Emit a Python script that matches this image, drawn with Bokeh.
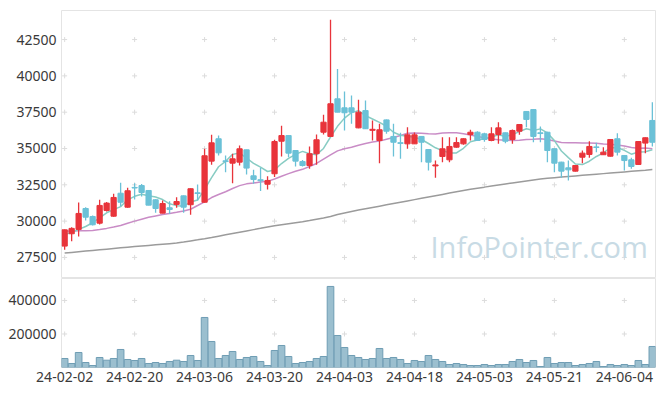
import numpy as np
import pandas as pd
from bokeh.plotting import figure
from bokeh.models import Range1d, FixedTicker, Label, ColumnDataSource
from bokeh.layouts import column
from bokeh.embed import file_html
from bokeh.resources import INLINE

# ---------------- data ----------------
opens = [28280, 29130, 29430, 30870, 30320, 29860, 30730, 30340, 31920, 30960,
         32320, 32450, 32110, 31470, 30550, 30920, 31150, 31740, 31130, 31950,
         31300, 34130, 35670, 34150, 33990, 34060, 34910, 33120, 32850, 32540,
         33260, 35500, 35890, 34860, 34100, 33830, 34640, 36120, 35830, 38420,
         37800, 37800, 36420, 37610, 36250, 35550, 36970, 35830, 35400, 35320,
         35320, 35830, 34930, 33800, 34450, 34220, 35090, 35320, 35960, 36120,
         36010, 35550, 35960, 36080, 35620, 36190, 37550, 37680, 36080, 36120,
         34980, 34060, 33670, 33440, 34400, 34590, 35110, 34570, 34470, 35670,
         34520, 34220, 33900, 35370, 36930]
highs = [29420, 29580, 31280, 30960, 30380, 31470, 31320, 31880, 32640, 32300,
         32610, 32550, 32150, 31500, 31420, 31370, 31650, 31760, 32250, 32520,
         34980, 35940, 35890, 34520, 34640, 35200, 34920, 33530, 33670, 33090,
         35600, 36560, 35900, 34870, 34200, 35140, 35960, 37320, 43860, 40480,
         38920, 38650, 38350, 38300, 36930, 36700, 37000, 36700, 36080, 36470,
         36100, 35850, 34950, 34170, 35780, 35780, 35780, 35700, 36290, 36180,
         36080, 36470, 36810, 36100, 36300, 36660, 37560, 37700, 36510, 36150,
         35000, 34080, 34170, 33850, 34860, 35500, 35390, 35090, 35640, 36050,
         34530, 34360, 35500, 35750, 38190]
lows = [28030, 28620, 28940, 30050, 29700, 29770, 30660, 30300, 31030, 30920,
        31490, 31700, 31100, 30570, 30550, 30510, 30920, 30580, 30440, 31420,
        31290, 33880, 34520, 33370, 32610, 33830, 33210, 32570, 32070, 32180,
        33030, 34450, 34400, 33760, 33760, 33600, 33880, 35960, 35830, 37500,
        36240, 36700, 36400, 36350, 35550, 33990, 36010, 34450, 34290, 34980,
        35320, 34060, 33490, 32980, 34060, 34060, 35050, 35250, 35550, 35550,
        35470, 35500, 35320, 35360, 35330, 35950, 36470, 35430, 35430, 34060,
        33370, 32980, 32800, 33420, 33990, 34360, 34750, 34550, 34450, 34520,
        33490, 33600, 33880, 34680, 35140]
closes = [29400, 29500, 30530, 30270, 29750, 31080, 31240, 31630, 31300, 32090,
          32280, 31970, 31100, 30870, 31210, 30800, 31350, 30960, 32230, 31900,
          34500, 35390, 34700, 34100, 34290, 34980, 33650, 32870, 32780, 32800,
          35480, 35890, 34680, 34130, 33830, 34640, 35600, 36810, 38080, 37500,
          37460, 37500, 37500, 36360, 36320, 36290, 36190, 35430, 35350, 35940,
          35940, 35430, 34060, 33870, 34980, 35140, 35410, 35670, 36120, 35550,
          35620, 36010, 36420, 35500, 36240, 36650, 37000, 35830, 36030, 34860,
          33990, 33440, 33530, 33830, 34680, 35140, 35070, 34750, 35620, 34750,
          34170, 33760, 35480, 35740, 35430]
volumes = [53700, 23900, 89500, 29800, 11900, 59700, 43600, 53700, 107500, 47800,
           41800, 53700, 23900, 29800, 23900, 35800, 43600, 35800, 71600, 41800,
           298500, 155200, 53700, 71600, 95500, 47800, 59700, 65700, 35800, 11900,
           101500, 131300, 65700, 23900, 29800, 35800, 53700, 65700, 483600, 191000,
           119400, 71600, 59700, 47800, 53700, 113400, 53700, 59700, 47800, 23900,
           41800, 35800, 71600, 47800, 35800, 17900, 23900, 17900, 11900, 11900,
           17900, 11900, 17900, 17900, 35800, 47800, 29800, 41800, 6000, 59700,
           23900, 29800, 29800, 11900, 17900, 23900, 35800, 6000, 17900, 11900,
           17900, 11900, 41800, 17900, 125400]
# moving averages: leading values (history before the window)
ma5_lead = [29080, 29220, 29430, 29630]
ma20_lead = [29310, 29320, 29330, 29340, 29360, 29420, 29500, 29590, 29700, 29850,
             30000, 30130, 30260, 30360, 30450, 30530, 30610, 30700, 30820]
ma120 = [27800, 27845, 27890, 27935, 27980, 28025, 28070, 28115, 28160, 28205,
         28250, 28290, 28330, 28370, 28410, 28450, 28490, 28560, 28635, 28710,
         28790, 28875, 28965, 29055, 29145, 29235, 29325, 29415, 29505, 29600,
         29680, 29750, 29820, 29890, 29960, 30040, 30130, 30220, 30320, 30450,
         30560, 30660, 30760, 30850, 30940, 31030, 31120, 31210, 31300, 31390,
         31480, 31570, 31660, 31750, 31840, 31930, 32020, 32105, 32190, 32270,
         32340, 32415, 32490, 32560, 32630, 32700, 32770, 32835, 32895, 32950,
         32990, 33030, 33070, 33110, 33150, 33190, 33230, 33270, 33310, 33350,
         33390, 33430, 33470, 33510, 33555]
tick_pos = [0, 10, 20, 30, 40, 50, 60, 70, 80]
tick_labels = ["24-02-02", "24-02-20", "24-03-06", "24-03-20", "24-04-03",
               "24-04-18", "24-05-03", "24-05-21", "24-06-04"]
price_ticks = [27500, 30000, 32500, 35000, 37500, 40000, 42500]
vol_ticks = [200000, 400000]
vol_labels = ["200000", "400000"]

# ---------------- derived ----------------
n = len(closes)
idx = list(range(n))
cs = pd.Series(closes, dtype=float)
ma5 = list(ma5_lead) + list(cs.rolling(5).mean().iloc[len(ma5_lead):])
ma20 = list(ma20_lead) + list(cs.rolling(20).mean().iloc[len(ma20_lead):])

RED = "#e8343b"
BLUE = "#6bc1d7"
colors = [RED if c >= o else BLUE for o, c in zip(opens, closes)]
src = ColumnDataSource(dict(
    x=idx, o=opens, h=highs, l=lows, c=closes,
    top=[max(o, c) for o, c in zip(opens, closes)],
    bot=[min(o, c) for o, c in zip(opens, closes)],
    color=colors, vol=volumes,
))

FONT = "Noto Sans"
LABEL_COLOR = "#3a3a3a"
GRIDC = "#dcdcdc"
OUTLINE = "#e4e4e4"

xr = Range1d(-0.45, 84.45)


def style_yaxis(p, ticks, overrides=None):
    p.yaxis.ticker = FixedTicker(ticks=ticks)
    if overrides:
        p.yaxis.major_label_overrides = overrides
    p.yaxis.axis_line_color = None
    p.yaxis.major_tick_line_color = None
    p.yaxis.minor_tick_line_color = None
    p.yaxis.major_tick_out = 0
    p.yaxis.major_label_standoff = 5
    p.yaxis.major_label_text_font = FONT
    p.yaxis.major_label_text_font_size = "14px"
    p.yaxis.major_label_text_color = LABEL_COLOR


# ---------------- price panel ----------------
p1 = figure(width=657, height=278, x_range=xr, y_range=Range1d(26050, 44500),
            output_backend="svg", toolbar_location=None, x_axis_location=None,
            min_border_left=61, min_border_right=2, min_border_top=10, min_border_bottom=0)
p1.grid.visible = False
p1.outline_line_color = OUTLINE
style_yaxis(p1, price_ticks)

gx = [x for x in tick_pos for _ in price_ticks]
gy = [y for _ in tick_pos for y in price_ticks]
p1.scatter(gx, gy, marker="cross", size=5, line_color=GRIDC, line_width=1)

p1.add_layout(Label(x=369, y=13, x_units="screen", y_units="screen",
                    text="InfoPointer.com", text_font="Open Sans",
                    text_font_size="29px", text_color="#c8dbe5"))

p1.line(idx, ma120, line_color="#9b9b9b", line_width=1.5)
p1.line(idx, ma20, line_color="#c98cc6", line_width=1.5)
p1.line(idx, ma5, line_color="#88ccc3", line_width=1.5)

p1.segment(x0="x", y0="l", x1="x", y1="h", line_color="color", line_width=1.3, source=src)
p1.vbar(x="x", width=0.75, top="top", bottom="bot", fill_color="color",
        line_color="color", line_width=1, source=src)

# ---------------- volume panel ----------------
p2 = figure(width=657, height=106, x_range=xr, y_range=Range1d(0, 531000),
            output_backend="svg", toolbar_location=None,
            min_border_left=61, min_border_right=2, min_border_top=0, min_border_bottom=0)
p2.grid.visible = False
p2.outline_line_color = OUTLINE
style_yaxis(p2, vol_ticks, {t: l for t, l in zip(vol_ticks, vol_labels)})

p2.xaxis.ticker = FixedTicker(ticks=tick_pos)
p2.xaxis.major_label_overrides = {t: l for t, l in zip(tick_pos, tick_labels)}
p2.xaxis.axis_line_color = None
p2.xaxis.major_tick_line_color = None
p2.xaxis.minor_tick_line_color = None
p2.xaxis.major_tick_out = 0
p2.xaxis.major_label_standoff = 4
p2.xaxis.major_label_text_font = FONT
p2.xaxis.major_label_text_font_size = "14px"
p2.xaxis.major_label_text_color = LABEL_COLOR

vx = [x for x in tick_pos for _ in vol_ticks]
vy = [y for _ in tick_pos for y in vol_ticks]
p2.scatter(vx, vy, marker="cross", size=5, line_color=GRIDC, line_width=1)

p2.vbar(x="x", top="vol", bottom=0, width=0.95, fill_color="#9bbfcf",
        line_color="#6f9db4", line_width=1, source=src)

layout = column(p1, p2, spacing=0)
open("out.html", "w").write(file_html(layout, INLINE))
